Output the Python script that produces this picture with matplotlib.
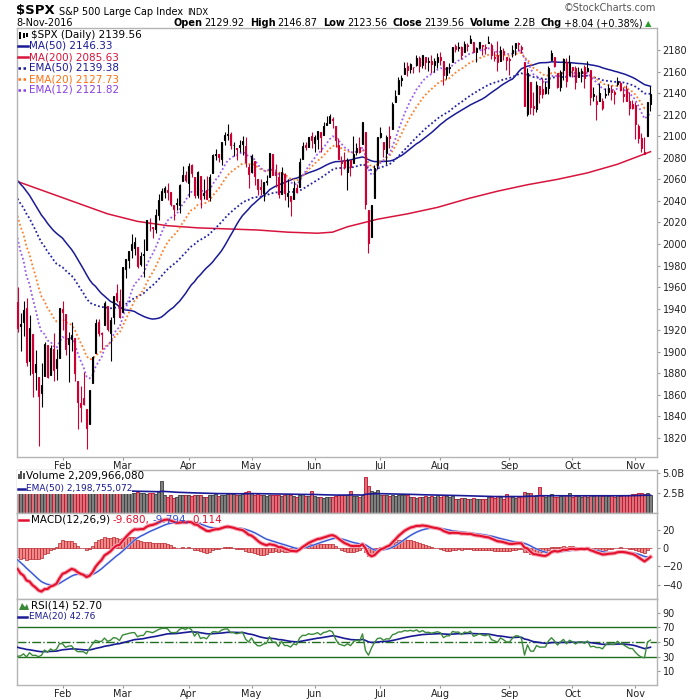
import numpy as np
import pandas as pd
import matplotlib
matplotlib.use('Agg')
from matplotlib import pyplot as plt
from matplotlib.patches import Rectangle
from matplotlib.lines import Line2D

# ---- data (Jan 8 - Nov 8 2016) ----
opens = [
    1945.97, 1926.12, 1927.83, 1940.34, 1891.68, 1916.68, 1888.66, 1876.18, 1861.46, 1877.40, 1906.28, 1878.79, 1902.52, 1885.22, 1894.00,
    1936.94, 1935.26, 1907.07, 1911.67, 1913.07, 1873.25, 1848.46, 1857.10, 1847.00, 1833.40, 1871.44, 1898.80, 1927.57, 1916.74, 1924.44, 1942.38, 1917.56, 1931.87, 1954.95, 1947.13,
    1937.09, 1976.60, 1985.60, 1994.01, 1996.11, 1996.88, 1981.44, 1990.97, 1994.71, 2019.27, 2015.27, 2014.24, 2026.90, 2041.16, 2047.88, 2048.64, 2048.55, 2032.48, 2037.89, 2035.75, 2058.27, 2063.77,
    2056.62, 2073.19, 2062.50, 2045.56, 2063.01, 2045.54, 2050.23, 2043.72, 2065.92, 2082.89, 2083.10, 2078.83, 2096.05, 2101.52, 2102.09, 2091.49, 2089.37, 2089.84, 2092.57, 2090.93, 2071.82,
    2067.17, 2077.18, 2060.30, 2052.95, 2047.77, 2057.55, 2062.63, 2083.29, 2067.17, 2062.50, 2046.53, 2065.04, 2044.38, 2044.21, 2041.88, 2052.23, 2052.65, 2078.93, 2091.44, 2090.06, 2100.13,
    2093.94, 2097.71, 2104.07, 2100.83, 2110.18, 2112.71, 2115.65, 2109.57, 2091.75, 2076.65, 2077.60, 2066.36, 2078.20, 2075.58, 2085.19, 2089.75, 2092.80, 2103.81, 2031.45, 2006.67, 2042.69, 2073.17,
    2099.34, 2095.05, 2084.43, 2100.42, 2106.97, 2131.72, 2139.50, 2153.81, 2157.88, 2165.13, 2162.04, 2163.79, 2166.10, 2172.91, 2166.47, 2173.71, 2168.97, 2169.81, 2166.05, 2168.83,
    2173.15, 2169.94, 2156.81, 2163.51, 2168.79, 2183.76, 2182.24, 2182.81, 2177.97, 2183.74, 2186.08, 2187.02, 2177.84, 2181.90, 2184.24, 2181.58, 2187.81, 2185.09, 2173.29, 2175.10, 2170.19, 2179.45, 2173.56,
    2171.33, 2177.49, 2181.61, 2185.17, 2182.76, 2169.08, 2120.86, 2150.47, 2127.86, 2125.36, 2146.48, 2143.99, 2145.94, 2144.58, 2170.94, 2173.29, 2158.54, 2146.04, 2161.85, 2168.90, 2156.51,
    2164.33, 2163.37, 2155.15, 2158.22, 2164.19, 2160.39, 2161.35, 2137.67, 2130.26, 2139.68, 2132.95, 2138.31, 2140.81, 2142.51, 2139.43, 2148.50, 2149.72, 2136.97, 2144.06, 2132.23, 2129.78,
    2128.68, 2109.43, 2098.80, 2083.79, 2100.59, 2129.92,
]
highs = [
    1960.40, 1935.65, 1947.38, 1950.33, 1934.47, 1916.68, 1901.44, 1876.18, 1889.85, 1908.85, 1906.28, 1906.73, 1916.99, 1902.96, 1940.24,
    1947.20, 1935.26, 1918.01, 1927.35, 1913.07, 1873.25, 1868.25, 1881.60, 1847.00, 1864.78, 1895.77, 1930.68, 1930.00, 1918.78, 1946.70, 1942.38, 1932.08, 1951.83, 1962.96, 1958.27,
    1978.35, 1986.51, 1993.69, 2009.13, 2006.12, 1996.88, 1992.69, 2005.08, 2022.37, 2024.57, 2015.94, 2032.02, 2046.24, 2052.36, 2053.91, 2056.60, 2048.55, 2036.04, 2042.67, 2055.91, 2072.21, 2067.92,
    2075.07, 2074.02, 2062.50, 2067.33, 2063.01, 2060.63, 2062.93, 2065.05, 2083.18, 2087.84, 2083.22, 2094.66, 2104.05, 2111.05, 2103.78, 2094.32, 2089.37, 2096.87, 2099.89, 2099.30, 2073.85,
    2083.42, 2077.18, 2060.30, 2060.23, 2057.72, 2064.15, 2084.87, 2083.29, 2073.99, 2066.79, 2071.88, 2065.69, 2060.61, 2044.21, 2058.35, 2055.58, 2079.67, 2094.73, 2094.30, 2099.06, 2103.48,
    2100.97, 2105.26, 2104.07, 2113.36, 2119.22, 2120.55, 2117.64, 2109.57, 2098.12, 2081.30, 2085.65, 2079.62, 2078.20, 2100.66, 2093.66, 2099.71, 2113.32, 2103.81, 2031.45, 2036.09, 2073.13, 2098.94,
    2108.71, 2095.05, 2100.72, 2109.08, 2131.71, 2143.16, 2155.40, 2156.45, 2168.99, 2169.05, 2168.35, 2164.63, 2175.63, 2174.56, 2175.11, 2173.71, 2173.54, 2174.98, 2172.85, 2177.09,
    2178.29, 2170.20, 2163.79, 2168.19, 2182.87, 2185.44, 2187.66, 2183.41, 2188.45, 2186.28, 2193.81, 2187.02, 2183.08, 2187.03, 2185.00, 2185.15, 2193.42, 2186.66, 2179.01, 2187.94, 2183.48, 2182.27, 2173.79,
    2173.56, 2184.87, 2186.57, 2187.87, 2184.94, 2169.08, 2163.30, 2150.47, 2141.33, 2151.31, 2146.48, 2153.61, 2150.80, 2165.11, 2179.99, 2173.75, 2158.54, 2161.13, 2172.40, 2172.67, 2175.30,
    2164.41, 2165.46, 2163.95, 2162.93, 2165.86, 2169.60, 2161.56, 2145.36, 2138.19, 2149.19, 2135.61, 2144.38, 2148.44, 2147.18, 2142.63, 2154.79, 2151.44, 2145.73, 2147.13, 2140.72, 2133.25,
    2131.45, 2111.76, 2102.56, 2099.07, 2132.00, 2146.87,
]
lows = [
    1918.46, 1901.10, 1914.35, 1886.41, 1878.93, 1857.83, 1864.60, 1812.29, 1848.98, 1877.40, 1875.97, 1878.79, 1872.70, 1873.65, 1894.00,
    1920.03, 1897.29, 1872.23, 1900.52, 1872.65, 1828.46, 1834.94, 1850.32, 1810.10, 1833.40, 1871.44, 1898.80, 1915.09, 1902.17, 1924.44, 1919.44, 1891.00, 1925.41, 1945.78, 1931.81,
    1937.09, 1968.80, 1977.37, 1986.77, 1989.38, 1977.43, 1979.84, 1969.25, 1994.71, 2012.05, 2005.23, 2010.04, 2022.16, 2041.16, 2043.14, 2040.57, 2034.86, 2022.49, 2031.96, 2028.31, 2058.27, 2057.46,
    2043.98, 2062.57, 2042.56, 2043.09, 2033.80, 2041.69, 2041.88, 2039.74, 2065.92, 2078.13, 2076.31, 2073.65, 2091.68, 2096.32, 2088.52, 2081.20, 2077.52, 2085.80, 2082.31, 2071.62, 2052.28,
    2066.11, 2054.89, 2045.55, 2045.77, 2039.45, 2054.31, 2062.63, 2064.46, 2053.13, 2043.13, 2046.53, 2040.82, 2034.49, 2025.91, 2041.88, 2047.26, 2052.65, 2078.93, 2087.08, 2090.06, 2088.66,
    2085.10, 2088.59, 2085.36, 2100.83, 2110.18, 2112.71, 2107.73, 2089.96, 2078.46, 2064.10, 2069.80, 2050.37, 2062.84, 2075.58, 2083.02, 2084.36, 2092.80, 2032.57, 1991.68, 2006.67, 2042.69, 2070.00,
    2097.90, 2080.86, 2074.02, 2089.39, 2106.97, 2131.72, 2139.50, 2146.21, 2157.88, 2155.79, 2159.07, 2159.01, 2164.89, 2159.75, 2163.24, 2161.95, 2160.18, 2159.07, 2159.74, 2163.49,
    2166.21, 2147.58, 2152.70, 2159.07, 2168.79, 2177.85, 2178.61, 2172.00, 2177.97, 2179.42, 2186.08, 2178.15, 2168.50, 2180.46, 2175.13, 2175.96, 2186.80, 2171.25, 2169.74, 2160.39, 2170.19, 2170.41, 2161.35,
    2157.09, 2173.59, 2175.10, 2179.07, 2177.49, 2127.81, 2119.12, 2120.27, 2119.90, 2122.36, 2131.20, 2135.91, 2139.17, 2139.57, 2170.94, 2163.97, 2145.04, 2141.55, 2151.79, 2145.20, 2156.51,
    2154.77, 2144.01, 2155.15, 2150.28, 2144.85, 2160.39, 2128.84, 2132.77, 2114.72, 2132.98, 2124.43, 2135.49, 2138.15, 2133.44, 2130.09, 2146.91, 2141.93, 2131.59, 2132.52, 2119.36, 2125.53,
    2097.85, 2094.00, 2085.23, 2083.79, 2100.59, 2123.56,
]
closes = [
    1922.03, 1923.67, 1938.68, 1890.28, 1921.84, 1880.33, 1881.33, 1859.33, 1868.99, 1906.90, 1877.08, 1903.63, 1882.95, 1893.36, 1940.24,
    1939.38, 1903.03, 1912.53, 1915.45, 1880.05, 1853.44, 1852.21, 1851.86, 1829.08, 1864.78, 1895.58, 1926.82, 1917.83, 1917.78, 1945.50, 1921.27, 1929.80, 1951.70, 1948.05, 1932.23,
    1978.35, 1986.45, 1993.40, 1999.99, 2001.76, 1979.26, 1989.26, 1989.57, 2022.19, 2019.64, 2015.93, 2027.22, 2040.59, 2049.58, 2051.60, 2049.80, 2036.71, 2035.94, 2037.05, 2055.01, 2063.95, 2059.74,
    2072.78, 2066.13, 2045.17, 2066.66, 2041.91, 2047.60, 2041.99, 2061.72, 2082.42, 2082.78, 2080.73, 2094.34, 2100.80, 2102.40, 2091.48, 2091.58, 2087.79, 2091.70, 2095.15, 2075.81, 2065.30,
    2081.43, 2063.37, 2051.12, 2050.63, 2057.14, 2058.69, 2084.39, 2064.46, 2064.11, 2046.61, 2066.66, 2047.21, 2047.63, 2040.04, 2052.32, 2048.04, 2076.06, 2090.54, 2090.10, 2099.06, 2096.95,
    2099.33, 2105.26, 2099.13, 2109.41, 2112.13, 2119.12, 2115.48, 2096.07, 2079.06, 2075.32, 2071.50, 2077.99, 2071.22, 2083.25, 2088.90, 2085.45, 2113.32, 2037.41, 2000.54, 2036.09, 2070.77, 2098.86,
    2102.95, 2088.55, 2099.73, 2097.90, 2129.90, 2137.16, 2152.14, 2152.43, 2163.75, 2161.74, 2166.89, 2163.78, 2173.02, 2165.17, 2175.03, 2168.48, 2169.18, 2166.58, 2170.06, 2173.60,
    2170.84, 2157.03, 2163.79, 2164.25, 2182.87, 2180.89, 2181.74, 2175.49, 2185.79, 2184.05, 2190.15, 2178.15, 2182.22, 2187.02, 2183.87, 2182.64, 2186.90, 2175.44, 2172.47, 2169.04, 2180.38, 2176.12, 2170.95,
    2170.86, 2179.98, 2186.48, 2186.16, 2181.30, 2127.81, 2159.04, 2127.02, 2125.77, 2147.26, 2139.16, 2139.12, 2139.76, 2163.12, 2177.18, 2164.69, 2146.10, 2159.93, 2171.37, 2151.13, 2168.27,
    2161.20, 2150.49, 2159.73, 2160.77, 2153.74, 2163.66, 2136.73, 2139.18, 2132.55, 2132.98, 2126.50, 2139.60, 2144.29, 2141.34, 2141.16, 2151.33, 2143.16, 2139.43, 2133.04, 2126.41, 2126.15,
    2111.72, 2097.94, 2088.66, 2085.18, 2131.52, 2139.56,
]
# volume in billions (Jan-early Mar tops sit behind the legend box)
volumes = [
    2.8, 2.7, 2.7, 2.9, 2.9, 3.1, 2.9, 3.2, 2.9, 2.8, 2.6, 2.7, 2.7, 2.8, 3.0,
    2.9, 2.9, 3.0, 2.8, 2.8, 2.9, 3.0, 2.8, 3.0, 2.8, 2.6, 2.7, 2.5, 2.5, 2.5, 2.6, 2.7, 2.5, 2.6, 2.8,
    2.6, 2.5, 2.6, 2.5, 2.5, 2.6, 2.5, 2.5, 2.4, 2.5, 2.5, 2.4, 2.6, 4.0, 2.2, 2.0, 2.2, 1.9, 2.0, 2.2, 2.3, 2.2,
    2.3, 2.1, 2.2, 2.2, 2.3, 2.0, 2.0, 2.2, 2.3, 2.4, 2.1, 2.3, 2.2, 2.4, 2.5, 2.4, 2.2, 2.3, 2.4, 2.6, 2.8,
    2.5, 2.3, 2.4, 2.3, 2.2, 2.1, 2.2, 2.3, 2.2, 2.3, 2.1, 2.3, 2.4, 2.2, 2.1, 2.0, 2.2, 2.4, 2.1, 2.1, 2.7,
    2.1, 2.0, 2.0, 1.9, 2.0, 2.0, 2.0, 2.1, 2.2, 2.2, 2.3, 2.3, 2.8, 2.1, 2.1, 2.0, 2.3, 4.5, 3.4, 2.8, 2.6, 2.9,
    2.3, 2.2, 2.2, 2.1, 2.2, 2.1, 2.2, 2.2, 2.3, 2.2, 2.0, 2.0, 1.9, 2.0, 2.0, 2.1, 2.0, 2.1, 2.0, 2.3,
    2.0, 2.2, 2.1, 2.0, 2.1, 1.8, 1.7, 1.9, 1.9, 1.8, 1.7, 1.9, 1.8, 1.8, 1.7, 1.8, 2.0, 2.0, 1.9, 2.1, 2.0, 1.8, 2.4,
    2.1, 2.0, 1.9, 2.0, 2.1, 2.6, 2.5, 2.5, 2.1, 2.3, 3.2, 2.1, 2.0, 2.3, 2.4, 2.0, 2.0, 2.1, 2.2, 2.2, 2.5,
    2.0, 2.1, 2.1, 2.0, 2.2, 2.0, 2.3, 2.1, 2.2, 2.3, 2.1, 2.2, 2.1, 2.2, 2.0, 2.2, 2.1, 2.3, 2.2, 2.3, 2.4,
    2.4, 2.5, 2.5, 2.4, 2.5, 2.21,
]
# closes before the visible window (Oct 28 2015 - Jan 7 2016), feed the MA(50)
prior_closes = [
    2090.35, 2089.41, 2079.36,
    2104.05, 2109.79, 2102.31, 2099.93, 2099.20, 2078.58, 2081.72, 2075.00, 2045.97, 2023.04, 2053.19, 2050.44,
    2083.58, 2081.24, 2089.17, 2086.59, 2089.14, 2088.87, 2090.11, 2080.41,
    2102.63, 2079.51, 2049.62, 2091.69, 2077.07, 2063.59, 2047.62, 2052.23, 2012.37, 2021.94, 2043.41, 2073.07,
    2041.89, 2005.55, 2021.15, 2038.97, 2064.29, 2060.99, 2056.50, 2078.36, 2063.36, 2043.94,
    2012.66, 2016.71, 1990.26, 1943.09,
]
# MA(200) at some bar positions
ma200_bar = [0, 10, 20, 30, 40, 50, 60, 70, 80, 90, 100, 105, 110, 120, 130, 140, 150, 160, 170, 180, 190, 200, 211]
ma200_val = [2058, 2048, 2038, 2028, 2021, 2017, 2015, 2014, 2013, 2011, 2010, 2011, 2016, 2023, 2028, 2034,
             2042, 2049, 2055, 2060, 2066, 2074, 2085.63]
# indicator starting values on Jan 7 (read from the left edge)
seed_ema12, seed_ema20, seed_ema26, seed_ema50 = 2021.0, 2037.0, 2037.0, 2047.0
seed_signal = -10.4
seed_gain, seed_loss = 9.0, 19.0
seed_rsi_ema = 44.0
seed_vol_ema = 2.8

holidays = ['2016-01-18', '2016-02-15', '2016-03-25', '2016-05-30', '2016-07-04', '2016-09-05']
month_names = ['Feb', 'Mar', 'Apr', 'May', 'Jun', 'Jul', 'Aug', 'Sep', 'Oct', 'Nov']

dates = pd.bdate_range('2016-01-08', '2016-11-08', freq='C', holidays=holidays)
px = pd.DataFrame({'open': opens, 'high': highs, 'low': lows, 'close': closes, 'vol': volumes}, index=dates)
n = len(px)
x = np.arange(n)


def ema_from(seed, values, span=None, alpha=None):
    s = pd.Series([seed] + list(values))
    if alpha is None:
        return s.ewm(span=span, adjust=False).mean().values[1:]
    return s.ewm(alpha=alpha, adjust=False).mean().values[1:]


all_close = pd.Series(prior_closes + closes)
ma50 = all_close.rolling(50).mean().values[len(prior_closes):]
ema12 = ema_from(seed_ema12, closes, 12)
ema20 = ema_from(seed_ema20, closes, 20)
ema26 = ema_from(seed_ema26, closes, 26)
ema50 = ema_from(seed_ema50, closes, 50)
macd = ema12 - ema26
signal = ema_from(seed_signal, macd, 9)
hist = macd - signal

delta = np.diff(np.array([prior_closes[-1]] + closes))
avg_gain = ema_from(seed_gain, np.clip(delta, 0, None), alpha=1 / 14)
avg_loss = ema_from(seed_loss, np.clip(-delta, 0, None), alpha=1 / 14)
rsi = 100 - 100 / (1 + avg_gain / avg_loss)
rsi_ema = ema_from(seed_rsi_ema, rsi, 20)
vol_ema = ema_from(seed_vol_ema, volumes, 50)

prev_close = np.array([prior_closes[-1]] + closes[:-1])
down = px['close'].values < prev_close
month_pos = [i for i in range(1, n) if dates[i].month != dates[i - 1].month]

# ---- colours ----
RED = '#cc0033'
NAVY = '#1a1a96'
GRID = '#b4b4b4'
W = H = 700.0

fig = plt.figure(figsize=(7, 7), dpi=100)
fig.patch.set_facecolor('white')


def fpos(xp, yp):
    return xp / W, 1 - yp / H


def add_panel(top, bottom):
    return fig.add_axes([17 / W, 1 - bottom / H, 640 / W, (bottom - top) / H])


ax_p = add_panel(28, 457)
ax_v = add_panel(470, 513)
ax_m = add_panel(513, 599)
ax_r = add_panel(599, 685)

for ax in (ax_p, ax_v, ax_m, ax_r):
    ax.set_xlim(-0.17, 213.17)
    for sp in ax.spines.values():
        sp.set_color(GRID)
        sp.set_linewidth(1)
    ax.yaxis.tick_right()
    ax.tick_params(axis='y', length=2, pad=2, colors='#222222', labelsize=7, color='#999999')
    ax.tick_params(axis='x', length=2, pad=1, colors='#222222', labelsize=7, color='#999999')
    ax.set_xticks(month_pos)
    ax.set_xticklabels([])

ax_p.set_xticklabels(month_names)
ax_r.set_xticklabels(month_names)

# ---- price panel ----
ax_p.set_ylim(1802.4, 2200.4)
ax_p.set_yticks(np.arange(1820, 2181, 20))
cols = np.where(down, RED, 'black')
ax_p.vlines(x, px['low'], px['high'], colors=cols, lw=0.8, zorder=3)
body_lo = np.minimum(px['open'], px['close'])
body_h = np.maximum(np.abs(px['close'] - px['open']), 0.6)
faces = [c if cl < op else 'white' for c, op, cl in zip(cols, px['open'], px['close'])]
ax_p.bar(x, body_h, bottom=body_lo, width=0.62, color=faces, edgecolor=cols, lw=0.8, zorder=4)

ax_p.plot(ma200_bar, ma200_val, color='#d8143c', lw=1.1, zorder=2)
ax_p.plot(x, ma50, color=NAVY, lw=1.1, zorder=2)
ax_p.plot(x, ema50, color='#2424a8', lw=1.3, ls=(0, (1, 1.3)), zorder=2)
ax_p.plot(x, ema20, color='#ff7f2a', lw=1.3, ls=(0, (1, 1.3)), zorder=2)
ax_p.plot(x, ema12, color='#9b5cf0', lw=1.3, ls=(0, (1, 1.3)), zorder=2)

# ---- volume panel ----
ax_v.set_ylim(0, 5.375)
ax_v.set_yticks([2.5, 5.0])
ax_v.set_yticklabels(['2.5B', '5.0B'])
v_face = np.where(down, '#d9707a', '#7f7f7f')
v_edge = np.where(down, '#c0102c', '#3c3c3c')
ax_v.bar(x, px['vol'], width=0.85, color=v_face, edgecolor=v_edge, lw=0.6, zorder=2)
ax_v.plot(x, vol_ema, color=NAVY, lw=1.2, zorder=3)
ax_v.add_patch(Rectangle((0, 0.442), 0.18, 0.56, transform=ax_v.transAxes, facecolor='white',
                         edgecolor='none', zorder=5, clip_on=False))

# ---- MACD panel ----
ax_m.set_ylim(-55.4, 38)
ax_m.set_yticks([-40, -20, 0, 20])
ax_m.bar(x, hist, width=0.9, color='#f08a8a', edgecolor='#b8242c', lw=0.5, zorder=2)
ax_m.plot(x, signal, color='#c8d2f6', lw=1.6, zorder=3)
ax_m.plot(x, signal, color='#3352d4', lw=0.9, zorder=4)
ax_m.plot(x, macd, color='#f5a8b4', lw=3.0, zorder=5)
ax_m.plot(x, macd, color='#e4102e', lw=1.5, zorder=6)

# ---- RSI panel ----
ax_r.set_ylim(-9.3, 109.3)
ax_r.set_yticks([10, 30, 50, 70, 90])
ax_r.axhline(70, color='#1f6f1f', lw=1)
ax_r.axhline(30, color='#1f6f1f', lw=1)
ax_r.axhline(50, color='#1f6f1f', lw=1, ls='-.')
ax_r.plot(x, rsi_ema, color=NAVY, lw=1.2, zorder=3)
ax_r.plot(x, rsi, color='#3a8a3a', lw=1.0, zorder=4)


# ---- text ----
def ftext(xp, yp, s, **kw):
    kw.setdefault('fontsize', 7)
    kw.setdefault('va', 'baseline')
    return fig.text(*fpos(xp, yp), s, **kw)


def chain(first, parts):
    t = first
    for s, kw in parts:
        kw = dict(kw)
        gap = kw.pop('gap', 2.5)
        kw.setdefault('fontsize', 7)
        t = fig.add_artist(plt.Annotation(s, xy=(1, 0), xycoords=t, xytext=(gap, 0),
                                          textcoords='offset points', va='bottom', **kw))
    return t


def icon_line(y, color, dotted=False, x0=18, x1=28):
    ls = (0, (1, 1)) if dotted else '-'
    fig.add_artist(Line2D([x0 / W, x1 / W], [1 - y / H, 1 - y / H], color=color, lw=1.8, ls=ls,
                          transform=fig.transFigure))


t = ftext(16, 14, '$SPX', fontsize=9.5, weight='bold')
t = chain(t, [('S&P 500 Large Cap Index', {'gap': 3}), ('INDX', {'fontsize': 6, 'gap': 3})])
ftext(656, 11, '\u00a9StockCharts.com', ha='right', color='#555555')
ftext(16, 26, '8-Nov-2016')

t = ftext(173, 26, 'Open', weight='bold')
parts = []
for lab, val in [('', '2129.92'), ('High', '2146.87'), ('Low', '2123.56'), ('Close', '2139.56'),
                 ('Volume', '2.2B'), ('Chg', '+8.04 (+0.38%)')]:
    if lab:
        parts.append((lab, {'weight': 'bold', 'gap': 4}))
    parts.append((val, {'gap': 1.5}))
t = chain(t, parts)
chain(t, [('\u25b2', {'color': '#2a9a2a', 'fontsize': 6, 'gap': 2})])

# price legend
ftext(31, 35, '$SPX (Daily) 2139.56', va='center', fontsize=7.5)
fig.add_artist(Rectangle((19 / W, 1 - 39 / H), 2 / W, 7 / H, facecolor='black', transform=fig.transFigure))
fig.add_artist(Rectangle((23 / W, 1 - 38 / H), 2 / W, 5 / H, facecolor='black', transform=fig.transFigure))
fig.add_artist(Rectangle((26 / W, 1 - 37 / H), 2 / W, 4 / H, facecolor='black', transform=fig.transFigure))
price_leg = [('MA(50) 2146.33', NAVY, False), ('MA(200) 2085.63', '#d8143c', False),
             ('EMA(50) 2139.38', NAVY, True), ('EMA(20) 2127.73', '#ff7010', True),
             ('EMA(12) 2121.82', '#8a3ee8', True)]
for k, (s, c, dotted) in enumerate(price_leg):
    yy = 46 + k * 11
    icon_line(yy, c, dotted)
    ftext(29, yy, s, va='center', color=c, fontsize=7.5)

# volume legend
for k, hgt in enumerate([5, 8, 6]):
    fig.add_artist(Rectangle(((18 + 2.4 * k) / W, 1 - 479 / H), 1.8 / W, hgt / H, facecolor='#555555',
                             transform=fig.transFigure, zorder=10))
ftext(26, 476, 'Volume 2,209,966,080', va='center', fontsize=7.5, zorder=10)
icon_line(489, NAVY, x0=18, x1=25)
ftext(26, 489, 'EMA(50) 2,198,755,072', va='center', fontsize=6.5, color=NAVY, zorder=10)

# MACD legend
icon_line(520, '#e4102e', x0=19, x1=28)
t = ftext(31, 520, 'MACD(12,26,9)', va='center', fontsize=7.5)
chain(t, [('-9.680,', {'color': '#e4102e', 'fontsize': 7.5, 'gap': 2}),
          ('-9.794,', {'color': '#3352d4', 'fontsize': 7.5, 'gap': 2}),
          ('0.114', {'color': '#e4102e', 'fontsize': 7.5, 'gap': 2})])

# RSI legend
fig.add_artist(plt.Polygon([(19 / W, 1 - 610 / H), (22 / W, 1 - 603 / H), (25 / W, 1 - 607 / H),
                            (27 / W, 1 - 604 / H), (29 / W, 1 - 610 / H)], closed=True,
                           facecolor='#3a8a3a', transform=fig.transFigure))
ftext(31, 606, 'RSI(14) 52.70', va='center', fontsize=7.5)
icon_line(617, NAVY, x0=18, x1=27)
ftext(29, 617, 'EMA(20) 42.76', va='center', fontsize=6.5, color=NAVY)

fig.savefig('out.png', dpi=100)
